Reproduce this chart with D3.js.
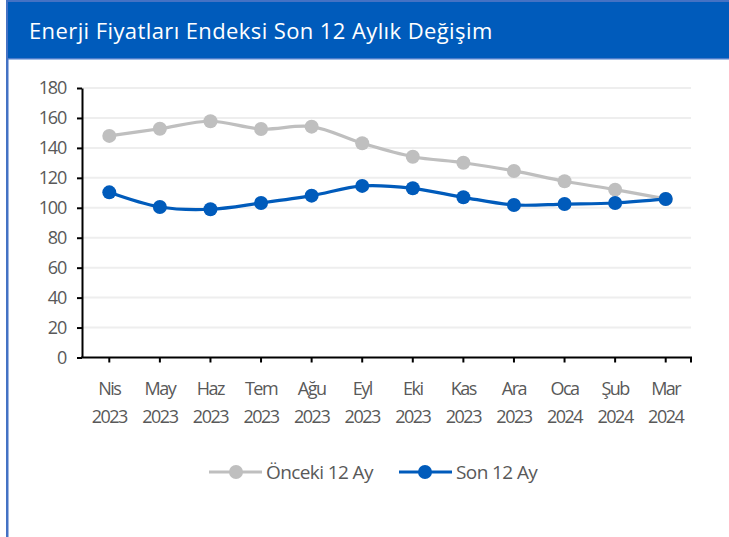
<!DOCTYPE html>
<html><head><meta charset="utf-8">
<script src="https://cdn.jsdelivr.net/npm/d3@7"></script>
<style>
html,body{margin:0;padding:0;background:#fff;}
svg{display:block;}
text{font-family:"Open Sans","Noto Sans",sans-serif;}
</style></head>
<body>
<svg id="c" width="729" height="537"></svg>
<script>
const title = "Enerji Fiyatları Endeksi Son 12 Aylık Değişim";
const months = ["Nis","May","Haz","Tem","Ağu","Eyl","Eki","Kas","Ara","Oca","Şub","Mar"];
const years  = ["2023","2023","2023","2023","2023","2023","2023","2023","2023","2024","2024","2024"];
const yTicks = [0,20,40,60,80,100,120,140,160,180];
const seriesNames = ["Önceki 12 Ay","Son 12 Ay"];
const seriesColors = ["#BFBFBF","#005BBB"];
const prev12 = [148,152.8,157.8,152.6,154.2,143.1,134.1,130.1,124.6,117.7,112.1,105.9];
const last12 = [110.3,100.5,99,103.2,108.1,114.6,113,107,101.9,102.5,103.2,105.9];

const svg = d3.select("#c");
// frame
svg.append("rect").attr("x",7).attr("y",0).attr("width",722).attr("height",2).attr("fill","#4472C4");
svg.append("rect").attr("x",6).attr("y",0).attr("width",2.5).attr("height",537).attr("fill","#4472C4");
svg.append("rect").attr("x",8).attr("y",2).attr("width",721).attr("height",56).attr("fill","#005BBB");
svg.append("rect").attr("x",8).attr("y",58).attr("width",721).attr("height",1.5).attr("fill","#4A7CCB");
svg.append("text").attr("x",29).attr("y",39).attr("fill","#fff")
  .attr("font-size",22).attr("letter-spacing","0.4px").text(title);

const x = d3.scaleBand().domain(months.map((m,i)=>i)).range([84,691]);
const y = d3.scaleLinear().domain([0,180]).range([357.5,88]);
const ax0 = 82;

// gridlines
svg.append("g").selectAll("line").data(yTicks.filter(d=>d>0)).join("line")
  .attr("x1",ax0).attr("x2",691).attr("y1",d=>y(d)).attr("y2",d=>y(d))
  .attr("stroke","#EEEEEE").attr("stroke-width",2);

// y axis
const yAxis = svg.append("g").attr("transform",`translate(${ax0},0)`)
  .call(d3.axisLeft(y).tickValues(yTicks).tickSize(5).tickPadding(11).tickSizeOuter(0));
yAxis.select(".domain").attr("stroke","#000").attr("stroke-width",2);
yAxis.selectAll(".tick line").attr("stroke","#000").attr("stroke-width",2);
yAxis.selectAll(".tick text").attr("font-size",18).attr("fill","#595959")
  .attr("letter-spacing","-1.2px").attr("font-family","'Open Sans',sans-serif");

// x axis
const xg = svg.append("g").attr("transform",`translate(0,${y(0)})`);
xg.append("line").attr("x1",ax0-1).attr("x2",692).attr("stroke","#000").attr("stroke-width",2);
xg.selectAll("line.t").data(months.map((m,i)=>i).concat(["end"])).join("line").attr("class","t")
  .attr("x1",d=>d==="end"?691:x(d)+x.bandwidth()/2).attr("x2",d=>d==="end"?691:x(d)+x.bandwidth()/2)
  .attr("y1",0).attr("y2",5).attr("stroke","#000").attr("stroke-width",2);
const xl = xg.selectAll("text.m").data(months).join("text").attr("class","m")
  .attr("x",(d,i)=>x(i)+x.bandwidth()/2).attr("text-anchor","middle")
  .attr("font-size",18).attr("fill","#595959").attr("letter-spacing","-1.5px");
xl.append("tspan").attr("x",(d,i)=>x(i)+x.bandwidth()/2).attr("y",37).text(d=>d);
xl.append("tspan").attr("x",(d,i)=>x(i)+x.bandwidth()/2).attr("y",65).text((d,i)=>years[i]);

// lines
const line = d3.line().x((d,i)=>x(i)+x.bandwidth()/2).y(d=>y(d)).curve(d3.curveCatmullRom.alpha(0.5));
[prev12,last12].forEach((s,k)=>{
  const g = svg.append("g");
  g.append("path").datum(s).attr("d",line).attr("fill","none")
    .attr("stroke",seriesColors[k]).attr("stroke-width",3.2);
  g.selectAll("circle").data(s).join("circle")
    .attr("cx",(d,i)=>x(i)+x.bandwidth()/2).attr("cy",d=>y(d)).attr("r",7)
    .attr("fill",seriesColors[k]);
});

// legend
const leg = [{x1:209,x2:262,cx:236,tx:266},{x1:399,x2:452,cx:425,tx:456}];
leg.forEach((l,k)=>{
  const g = svg.append("g");
  g.append("line").attr("x1",l.x1).attr("x2",l.x2).attr("y1",472).attr("y2",472)
    .attr("stroke",seriesColors[k]).attr("stroke-width",3.2);
  g.append("circle").attr("cx",l.cx).attr("cy",472).attr("r",7).attr("fill",seriesColors[k]);
  g.append("text").attr("x",l.tx).attr("y",479).attr("font-size",19).attr("fill","#595959")
    .attr("letter-spacing","-0.6px").text(seriesNames[k]);
});
</script>
</body></html>
